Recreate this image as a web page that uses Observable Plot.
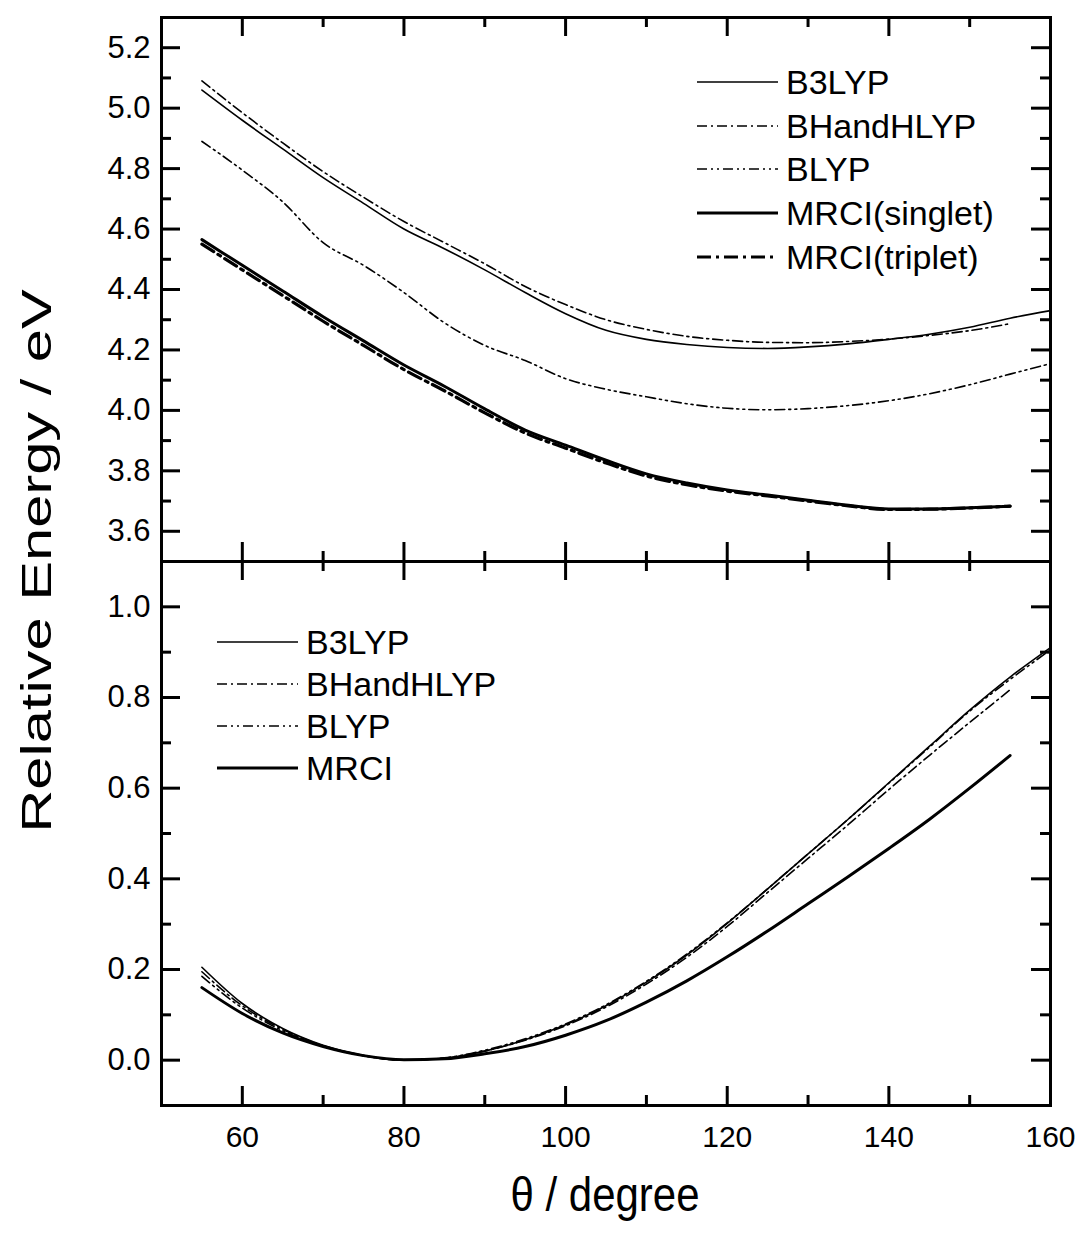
<!DOCTYPE html>
<html><head><meta charset="utf-8">
<script src="https://cdn.jsdelivr.net/npm/d3@7"></script>
<script src="https://cdn.jsdelivr.net/npm/@observablehq/plot@0.6"></script>
<style>
body{margin:0;background:#fff;}
#wrap{position:relative;width:1084px;height:1233px;font-family:"Liberation Sans",Arial,sans-serif;color:#000;background:#fff;}
#wrap svg.plot{display:block;}
.legend{position:absolute;font-size:34px;line-height:1;}
.legend .row{position:absolute;white-space:nowrap;display:flex;align-items:center;}
.legend svg{display:block;margin-right:8px;}
.ytitle{position:absolute;left:37px;top:561px;transform:translate(-50%,-50%) rotate(-90deg) scale(1.42,1);font-size:42px;white-space:nowrap;}
.xtitle{position:absolute;left:605px;top:1195px;transform:translate(-50%,-50%) scale(1,1.15);font-size:42px;white-space:nowrap;}
</style></head><body><div id="wrap"></div>
<script>
// ---- data ----
const thetaFull = [55,60,65,70,75,80,85,90,95,100,105,110,115,120,125,130,135,140,145,150,155,160];
const thetaShort = [55,60,65,70,75,80,85,90,95,100,105,110,115,120,125,130,135,140,145,150,155];

// upper panel (excited states)
const b3lypTop = [5.06,4.96,4.865,4.77,4.685,4.60,4.535,4.465,4.39,4.32,4.265,4.235,4.218,4.208,4.205,4.21,4.22,4.235,4.252,4.275,4.305,4.33];
const bhandhlypTop = [5.09,4.985,4.885,4.79,4.705,4.625,4.555,4.485,4.41,4.35,4.30,4.268,4.245,4.232,4.225,4.224,4.228,4.236,4.248,4.264,4.287];
const blypTop = [4.89,4.795,4.69,4.555,4.48,4.39,4.29,4.215,4.165,4.105,4.07,4.045,4.022,4.007,4.002,4.006,4.016,4.032,4.055,4.085,4.12,4.155];
const mrciSingletTop = [4.565,4.48,4.395,4.31,4.23,4.15,4.08,4.005,3.935,3.885,3.835,3.79,3.76,3.737,3.72,3.703,3.686,3.674,3.674,3.678,3.683];
const mrciTripletTop = [4.55,4.465,4.38,4.295,4.215,4.135,4.065,3.992,3.925,3.875,3.826,3.783,3.754,3.733,3.717,3.70,3.684,3.672,3.673,3.677,3.683];

// lower panel (ground state)
const b3lypBot = [0.205,0.125,0.07,0.033,0.01,0.0,0.004,0.02,0.045,0.078,0.12,0.172,0.232,0.302,0.378,0.455,0.532,0.612,0.692,0.772,0.845,0.91];
const bhandhlypBot = [0.195,0.12,0.068,0.032,0.01,0.0,0.004,0.02,0.044,0.076,0.117,0.168,0.227,0.295,0.37,0.445,0.52,0.597,0.672,0.745,0.817];
const blypBot = [0.185,0.115,0.065,0.031,0.01,0.0,0.005,0.022,0.047,0.08,0.122,0.174,0.234,0.303,0.378,0.455,0.532,0.611,0.69,0.77,0.84,0.905];
const mrciBot = [0.16,0.103,0.06,0.03,0.01,0.001,0.003,0.014,0.03,0.055,0.087,0.128,0.175,0.228,0.285,0.345,0.405,0.467,0.531,0.60,0.672];

// ticks
const xMajor = [60,80,100,120,140,160];
const xMinor = [70,90,110,130,150];
const yTopMajor = [3.6,3.8,4.0,4.2,4.4,4.6,4.8,5.0,5.2];
const yTopMinor = [3.5,3.7,3.9,4.1,4.3,4.5,4.7,4.9,5.1,5.3];
const yBotMajor = [0.0,0.2,0.4,0.6,0.8,1.0];
const yBotMinor = [-0.1,0.1,0.3,0.5,0.7,0.9,1.1];

const topLegend = ["B3LYP","BHandHLYP","BLYP","MRCI(singlet)","MRCI(triplet)"];
const botLegend = ["B3LYP","BHandHLYP","BLYP","MRCI"];

// styles
const styleOf = {
  "B3LYP": {w:1.6, dash:null},
  "BHandHLYP": {w:1.6, dash:"10,4,2,4"},
  "BLYP": {w:1.6, dash:"10,4,2,4,2,4"},
  "MRCI(singlet)": {w:3, dash:null},
  "MRCI": {w:3, dash:null},
  "MRCI(triplet)": {w:3.2, dash:"14,5,3,5"}
};

const rows = (name, xs, ys) => xs.map((t,i)=>({theta:t, e:ys[i], name}));
const topSeries = [
  rows("B3LYP", thetaFull, b3lypTop),
  rows("BHandHLYP", thetaShort, bhandhlypTop),
  rows("BLYP", thetaFull, blypTop),
  rows("MRCI(singlet)", thetaShort, mrciSingletTop),
  rows("MRCI(triplet)", thetaShort, mrciTripletTop)
];
const botSeries = [
  rows("B3LYP", thetaFull, b3lypBot),
  rows("BHandHLYP", thetaShort, bhandhlypBot),
  rows("BLYP", thetaFull, blypBot),
  rows("MRCI", thetaShort, mrciBot)
];

const W = 1084, ML = 161, MR = 34;
const plotW = W - ML - MR;
const majorLen = 19, minorLen = 10;
const fontX = 30, fontY = 31;

function lineMarks(series){
  return series.map(s => {
    const st = styleOf[s[0].name];
    return Plot.line(s, {x:"theta", y:"e", curve:"monotone-x", stroke:"#000",
      strokeWidth: st.w, strokeDasharray: st.dash, strokeLinejoin:"round"});
  });
}
function tickMarks(yMaj, yMin, plotH){
  const sw = 3;
  return [
    Plot.tickY(yMaj, {y:d=>d, insetRight: plotW - majorLen, strokeWidth: sw}),
    Plot.tickY(yMin, {y:d=>d, insetRight: plotW - minorLen, strokeWidth: sw}),
    Plot.tickY(yMaj, {y:d=>d, insetLeft: plotW - majorLen, strokeWidth: sw}),
    Plot.tickY(yMin, {y:d=>d, insetLeft: plotW - minorLen, strokeWidth: sw}),
    Plot.tickX(xMajor, {x:d=>d, insetBottom: plotH - majorLen, strokeWidth: sw}),
    Plot.tickX(xMinor, {x:d=>d, insetBottom: plotH - minorLen, strokeWidth: sw}),
    Plot.tickX(xMajor, {x:d=>d, insetTop: plotH - majorLen, strokeWidth: sw}),
    Plot.tickX(xMinor, {x:d=>d, insetTop: plotH - minorLen, strokeWidth: sw})
  ];
}

const topH = 561, topMT = 17;
const topPlot = Plot.plot({
  width: W, height: topH,
  marginLeft: ML, marginRight: MR, marginTop: topMT, marginBottom: 0,
  style: {fontFamily: '"Liberation Sans", Arial, sans-serif', background:"transparent", color:"#000"},
  x: {domain:[50,160], axis: null, label: null},
  y: {domain:[3.5,5.3], label: null},
  marks: [
    ...lineMarks(topSeries),
    ...tickMarks(yTopMajor, yTopMinor, topH - topMT),
    Plot.axisY({ticks: yTopMajor, tickSize: 0, tickPadding: 11, tickFormat: d3.format(".1f"), fontSize: fontY, label: null}),
    Plot.frame({strokeWidth: 3})
  ]
});

const botH = 672, botMB = 128;
const botPlot = Plot.plot({
  width: W, height: botH,
  marginLeft: ML, marginRight: MR, marginTop: 0, marginBottom: botMB,
  style: {fontFamily: '"Liberation Sans", Arial, sans-serif', background:"transparent", color:"#000"},
  x: {domain:[50,160], label: null},
  y: {domain:[-0.1,1.1], label: null},
  marks: [
    ...lineMarks(botSeries),
    ...tickMarks(yBotMajor, yBotMinor, botH - botMB),
    Plot.axisY({ticks: yBotMajor, tickSize: 0, tickPadding: 11, tickFormat: d3.format(".1f"), fontSize: fontY, label: null}),
    Plot.axisX({ticks: xMajor, tickSize: 0, tickPadding: 20, tickFormat: d3.format("d"), fontSize: fontX, label: null}),
    Plot.frame({strokeWidth: 3})
  ]
});

const wrap = document.getElementById("wrap");
wrap.appendChild(topPlot);
wrap.appendChild(botPlot);

function legend(items, left, top, step){
  const div = document.createElement("div");
  div.className = "legend";
  div.style.left = left + "px"; div.style.top = top + "px";
  items.forEach((name,i)=>{
    const st = styleOf[name];
    const row = document.createElement("div");
    row.className = "row";
    row.style.top = (i*step) + "px";
    row.style.height = "36px";
    const svg = d3.create("svg").attr("width",81).attr("height",10);
    svg.append("line").attr("x1",0).attr("x2",81).attr("y1",5).attr("y2",5)
      .attr("stroke","#000").attr("stroke-width",st.w).attr("stroke-dasharray",st.dash);
    row.appendChild(svg.node());
    const sp = document.createElement("span"); sp.textContent = name;
    row.appendChild(sp);
    div.appendChild(row);
  });
  wrap.appendChild(div);
}
legend(topLegend, 697, 64, 43.7);
legend(botLegend, 217, 624, 42);

const yt = document.createElement("div"); yt.className="ytitle"; yt.textContent="Relative Energy / eV"; wrap.appendChild(yt);
const xt = document.createElement("div"); xt.className="xtitle"; xt.textContent="θ / degree"; wrap.appendChild(xt);
</script></body></html>
